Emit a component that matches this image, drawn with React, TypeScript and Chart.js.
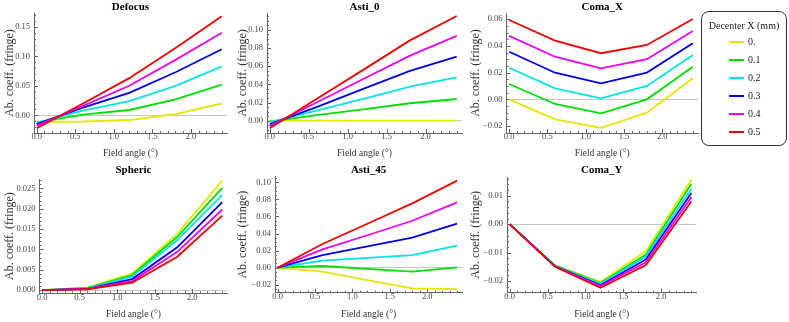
import React, { useEffect, useRef } from 'react';
import { Chart, registerables } from 'chart.js';

Chart.register(...registerables);

// ---------- data ----------
const fieldAngles = [0, 0.6, 1.2, 1.8, 2.4];
const decenterLabels = ['0.', '0.1', '0.2', '0.3', '0.4', '0.5'];
const seriesColors = ['#e6e600', '#00e000', '#00e6e6', '#0000f0', '#f000f0', '#f00000'];

const defocus0 = [-0.011, -0.0105, -0.008, 0.002, 0.020];
const defocus1 = [-0.012, 0.001, 0.009, 0.027, 0.052];
const defocus2 = [-0.013, 0.008, 0.024, 0.050, 0.083];
const defocus3 = [-0.015, 0.013, 0.038, 0.073, 0.112];
const defocus4 = [-0.018, 0.016, 0.050, 0.094, 0.140];
const defocus5 = [-0.022, 0.020, 0.063, 0.114, 0.168];

const asti0_0 = [0, 0, 0, 0, 0];
const asti0_1 = [-0.001, 0.006, 0.0125, 0.0192, 0.0239];
const asti0_2 = [-0.002, 0.011, 0.024, 0.0375, 0.0478];
const asti0_3 = [-0.004, 0.015, 0.035, 0.0548, 0.0706];
const asti0_4 = [-0.006, 0.020, 0.046, 0.0717, 0.0934];
const asti0_5 = [-0.0084, 0.024, 0.056, 0.0885, 0.1154];

const comaX0 = [0, -0.015, -0.0213, -0.010, 0.0157];
const comaX1 = [0.0115, -0.0035, -0.0105, 0, 0.0244];
const comaX2 = [0.0236, 0.0082, 0.0007, 0.010, 0.0332];
const comaX3 = [0.0356, 0.0199, 0.012, 0.020, 0.042];
const comaX4 = [0.0475, 0.0319, 0.0232, 0.030, 0.0512];
const comaX5 = [0.0594, 0.0439, 0.0345, 0.0407, 0.0601];

const spheric0 = [0, 0.0006, 0.0041, 0.0138, 0.0269];
const spheric1 = [0, 0.0005, 0.0037, 0.0131, 0.0251];
const spheric2 = [0, 0.0004, 0.0033, 0.0123, 0.0234];
const spheric3 = [0, 0.0003, 0.0027, 0.0105, 0.0216];
const spheric4 = [0, 0.0003, 0.0022, 0.0094, 0.0198];
const spheric5 = [0, 0.0002, 0.0018, 0.0082, 0.0183];

const asti45_0 = [0, -0.0047, -0.0145, -0.0242, -0.025];
const asti45_1 = [0, 0.002, -0.0013, -0.0047, 0.0004];
const asti45_2 = [0, 0.0082, 0.0115, 0.0148, 0.0258];
const asti45_3 = [0, 0.0148, 0.025, 0.0352, 0.0516];
const asti45_4 = [0, 0.0215, 0.038, 0.055, 0.0766];
const asti45_5 = [0, 0.0277, 0.0515, 0.0754, 0.102];

const comaY0 = [0, -0.0145, -0.0203, -0.0095, 0.0156];
const comaY1 = [0, -0.0146, -0.0207, -0.0107, 0.0142];
const comaY2 = [0, -0.0147, -0.021, -0.0115, 0.0125];
const comaY3 = [0, -0.0148, -0.0215, -0.0124, 0.011];
const comaY4 = [0, -0.0149, -0.0218, -0.0134, 0.0095];
const comaY5 = [0, -0.015, -0.0224, -0.0144, 0.008];

const xAxisTitle = 'Field angle (°)';
const yAxisTitle = 'Ab. coeff. (fringe)';
const legendTitle = 'Decenter X (mm)';

// ---------- layout ----------
const FONT = "'Liberation Serif', 'DejaVu Serif', serif";

type PanelCfg = {
  title: string;
  series: number[][];
  cx: number; cy: number; cw: number; ch: number;
  L: number; R: number; T: number; B: number;
  yMin: number; yMax: number; yStep: number; yMinor: number; yDec: number;
  titleY: number; xTitleY: number; yTitleX: number;
};

const panels: PanelCfg[] = [
  {
    title: 'Defocus', series: [defocus0, defocus1, defocus2, defocus3, defocus4, defocus5],
    cx: 0, cy: 0, cw: 250, ch: 160, L: 34, R: 227, T: 13, B: 133,
    yMin: -0.030, yMax: 0.1734, yStep: 0.05, yMinor: 0.01, yDec: 2,
    titleY: 7, xTitleY: 153, yTitleX: 10,
  },
  {
    title: 'Asti_0', series: [asti0_0, asti0_1, asti0_2, asti0_3, asti0_4, asti0_5],
    cx: 232, cy: 0, cw: 268, ch: 160, L: 267, R: 462, T: 13, B: 133,
    yMin: -0.0136, yMax: 0.1187, yStep: 0.02, yMinor: 0.005, yDec: 2,
    titleY: 7, xTitleY: 153, yTitleX: 243,
  },
  {
    title: 'Coma_X', series: [comaX0, comaX1, comaX2, comaX3, comaX4, comaX5],
    cx: 466, cy: 0, cw: 234, ch: 160, L: 506.5, R: 698, T: 13, B: 133,
    yMin: -0.0252, yMax: 0.0646, yStep: 0.02, yMinor: 0.005, yDec: 2,
    titleY: 7, xTitleY: 153, yTitleX: 476,
  },
  {
    title: 'Spheric', series: [spheric0, spheric1, spheric2, spheric3, spheric4, spheric5],
    cx: 0, cy: 160, cw: 250, ch: 162, L: 39.5, R: 227.4, T: 179, B: 293.3,
    yMin: -0.0008, yMax: 0.0273, yStep: 0.005, yMinor: 0.001, yDec: 3,
    titleY: 170, xTitleY: 314.3, yTitleX: 10,
  },
  {
    title: 'Asti_45', series: [asti45_0, asti45_1, asti45_2, asti45_3, asti45_4, asti45_5],
    cx: 232, cy: 160, cw: 268, ch: 162, L: 275, R: 462.2, T: 176.7, B: 292.7,
    yMin: -0.0293, yMax: 0.1066, yStep: 0.02, yMinor: 0.005, yDec: 2,
    titleY: 170, xTitleY: 314.3, yTitleX: 243,
  },
  {
    title: 'Coma_Y', series: [comaY0, comaY1, comaY2, comaY3, comaY4, comaY5],
    cx: 466, cy: 160, cw: 234, ch: 162, L: 507, R: 696.5, T: 177, B: 292.7,
    yMin: -0.0241, yMax: 0.0166, yStep: 0.01, yMinor: 0.002, yDec: 2,
    titleY: 170, xTitleY: 314.3, yTitleX: 476,
  },
];

const X_MIN = -0.035;
const X_MAX = 2.468;

const inTicksPlugin = {
  id: 'inTicks',
  beforeDatasetsDraw(chart: any, _args: any, opts: any) {
    const { ctx, chartArea: a } = chart;
    const xs = chart.scales.x;
    const ys = chart.scales.y;
    ctx.save();
    ctx.strokeStyle = '#666';
    ctx.lineWidth = 1;
    const eps = 1e-7;
    const run = (scale: any, step: number, len: number, horiz: boolean) => {
      const k0 = Math.ceil(scale.min / step - eps);
      const k1 = Math.floor(scale.max / step + eps);
      for (let k = k0; k <= k1; k++) {
        const p = Math.round(scale.getPixelForValue(k * step)) + 0.5;
        ctx.beginPath();
        if (horiz) {
          ctx.moveTo(p, a.bottom);
          ctx.lineTo(p, a.bottom - len);
        } else {
          ctx.moveTo(a.left, p);
          ctx.lineTo(a.left + len, p);
        }
        ctx.stroke();
      }
    };
    run(xs, opts.xMinor, 2, true);
    run(xs, opts.xMajor, 4, true);
    run(ys, opts.yMinor, 2, false);
    run(ys, opts.yMajor, 4, false);
    ctx.restore();
  },
};

const fmtY = (dec: number) => (v: any) => {
  const n = Number(v);
  const s = Math.abs(n).toFixed(dec);
  return (n < -1e-12 ? '\u2212' : '') + s;
};

function Panel({ p }: { p: PanelCfg }) {
  const ref = useRef<HTMLCanvasElement | null>(null);
  useEffect(() => {
    if (!ref.current) return;
    const titleLH = 11;
    const tPadTop = p.titleY - p.cy - titleLH / 2;
    const tPadBottom = Math.max(0, p.T - p.cy - tPadTop - titleLH);
    const xTitleLH = 9.5;
    const xTitlePadBottom = p.cy + p.ch - p.xTitleY - xTitleLH / 2;
    const yTitleLH = 12;
    const yTitlePadTop = p.yTitleX - p.cx - yTitleLH / 2;
    const chart = new Chart(ref.current, {
      type: 'line',
      data: {
        datasets: p.series.map((vals, i) => ({
          label: decenterLabels[i],
          data: fieldAngles.map((x, k) => ({ x, y: vals[k] })),
          borderColor: seriesColors[i],
          backgroundColor: seriesColors[i],
          borderWidth: 1.8,
          pointRadius: 0,
          fill: false,
          tension: 0,
          order: 5 - i,
        })),
      },
      options: {
        animation: false,
        responsive: false,
        devicePixelRatio: 1,
        events: [],
        layout: { padding: { left: 0, top: 0, bottom: 0, right: p.cx + p.cw - p.R } },
        plugins: {
          legend: { display: false },
          tooltip: { enabled: false },
          title: {
            display: true,
            text: p.title,
            fullSize: false,
            color: '#000',
            font: { family: FONT, size: 11, weight: 'bold', lineHeight: 1 },
            padding: { top: tPadTop, bottom: tPadBottom },
          },
          inTicks: { xMajor: 0.5, xMinor: 0.1, yMajor: p.yStep, yMinor: p.yMinor },
        } as any,
        scales: {
          x: {
            type: 'linear',
            min: X_MIN,
            max: X_MAX,
            afterFit: (s: any) => { s.height = p.cy + p.ch - p.B; },
            border: { display: true, color: '#666', width: 1 },
            grid: { display: false, drawTicks: false },
            ticks: {
              stepSize: 0.5,
              includeBounds: false,
              autoSkip: false,
              maxRotation: 0,
              padding: 0,
              color: '#444',
              font: { family: FONT, size: 8.5, lineHeight: 1 },
              callback: (v: any) => Number(v).toFixed(1),
            },
            title: {
              display: true,
              text: xAxisTitle,
              color: '#333',
              font: { family: FONT, size: 9.5, lineHeight: 1 },
              padding: { top: 0, bottom: xTitlePadBottom },
            },
          },
          y: {
            type: 'linear',
            min: p.yMin,
            max: p.yMax,
            afterFit: (s: any) => { s.width = p.L - p.cx; },
            border: { display: true, color: '#666', width: 1 },
            grid: {
              drawTicks: false,
              lineWidth: 1,
              color: (c: any) => (c.tick && Math.abs(c.tick.value) < 1e-12 ? '#c4c4c4' : 'rgba(0,0,0,0)'),
            },
            ticks: {
              stepSize: p.yStep,
              includeBounds: false,
              autoSkip: false,
              padding: 4,
              color: '#444',
              font: { family: FONT, size: 8.5, lineHeight: 1 },
              callback: fmtY(p.yDec),
            },
            title: {
              display: true,
              text: yAxisTitle,
              color: '#333',
              font: { family: FONT, size: 12, lineHeight: 1 },
              padding: { top: yTitlePadTop, bottom: 0 },
            },
          },
        },
      } as any,
      plugins: [inTicksPlugin as any],
    });
    return () => chart.destroy();
  }, [p]);
  return (
    <canvas
      ref={ref}
      width={p.cw}
      height={p.ch}
      style={{ position: 'absolute', left: p.cx, top: p.cy, width: p.cw, height: p.ch }}
    />
  );
}

function Legend() {
  const left = 701;
  const top = 11;
  const entryY = [40.7, 58.5, 76.5, 94.5, 112.7, 130.7];
  return (
    <div
      style={{
        position: 'absolute', left, top, width: 84, height: 133,
        border: '1.3px solid #333', borderRadius: 8, background: '#fff',
        fontFamily: FONT, color: '#222',
      }}
    >
      <div
        style={{
          position: 'absolute', left: 0, width: 84, top: 25 - top - 7, height: 14,
          lineHeight: '14px', fontSize: 10, textAlign: 'center', whiteSpace: 'nowrap',
        }}
      >
        {legendTitle}
      </div>
      {decenterLabels.map((lab, i) => (
        <React.Fragment key={lab}>
          <div
            style={{
              position: 'absolute', left: 727.5 - left, top: entryY[i] - top - 1, width: 15, height: 2,
              background: seriesColors[i],
            }}
          />
          <div
            style={{
              position: 'absolute', left: 747 - left, top: entryY[i] - top - 7, height: 14,
              lineHeight: '14px', fontSize: 10, whiteSpace: 'nowrap',
            }}
          >
            {lab}
          </div>
        </React.Fragment>
      ))}
    </div>
  );
}

export default function App() {
  return (
    <div style={{ position: 'absolute', left: 0, top: 0, width: 789, height: 322, background: '#fff', overflow: 'hidden' }}>
      {panels.map((p) => (
        <Panel key={p.title} p={p} />
      ))}
      <Legend />
    </div>
  );
}
